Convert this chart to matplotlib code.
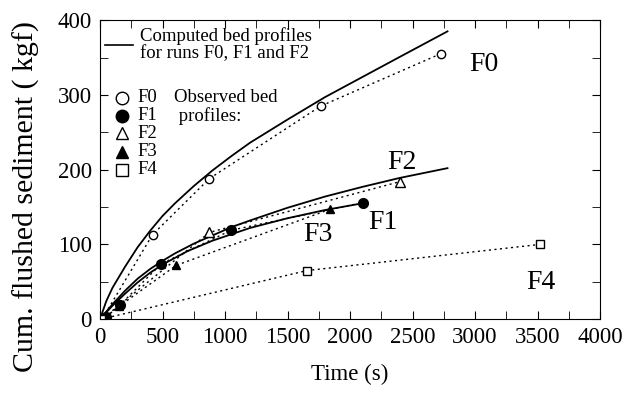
import matplotlib
matplotlib.use('Agg')
import matplotlib.pyplot as plt
from matplotlib.ticker import MultipleLocator

plt.rcParams['font.family'] = ['Liberation Serif', 'DejaVu Serif']

# computed bed profiles (solid)
comp_f0_t = [0, 50, 100, 200, 300, 400, 500, 600, 750, 900, 1050, 1200, 1500, 1800, 2100, 2400, 2780]
comp_f0_w = [0, 24, 42, 70, 96, 118, 138, 155, 178, 199, 218, 236, 267, 297, 324, 351, 385]
comp_f2_t = [0, 50, 100, 200, 300, 400, 500, 600, 750, 900, 1050, 1200, 1500, 1800, 2100, 2400, 2780]
comp_f2_w = [0, 10, 20, 38, 54, 67, 78, 88, 101, 112, 123, 132, 149, 164, 177, 189, 202]
comp_f1_t = [0, 50, 100, 200, 300, 400, 500, 700, 900, 1200, 1500, 1800, 2100]
comp_f1_w = [0, 9, 18, 34, 49, 62, 73, 91, 105, 122, 135, 146, 155]

# observed bed profiles (markers + dotted)
obs_f0_t = [20, 420, 875, 1765, 2725]
obs_f0_w = [1, 113, 188, 285, 355]
obs_f1_t = [50, 160, 490, 1050, 2105]
obs_f1_w = [3, 19, 74, 119, 156]
obs_f2_t = [30, 875, 2400]
obs_f2_w = [2, 116, 184]
obs_f3_t = [40, 150, 610, 1840]
obs_f3_w = [2, 17, 72, 147]
obs_f4_t = [10, 1655, 3520]
obs_f4_w = [0, 65, 100]

fig = plt.figure(figsize=(6.25, 3.95), dpi=100)
ax = fig.add_axes([0.16, 0.192, 0.8, 0.757])

for t, w in [(comp_f0_t, comp_f0_w), (comp_f2_t, comp_f2_w), (comp_f1_t, comp_f1_w)]:
  ax.plot(t, w, color='black', lw=1.3)

dots = dict(color='black', lw=1.0, linestyle=(0, (1.5, 2.5)))
ax.plot(obs_f0_t, obs_f0_w, marker='o', mfc='white', mec='black', ms=6, **dots)
ax.plot(obs_f1_t, obs_f1_w, marker='o', mfc='black', mec='black', ms=7, **dots)
ax.plot(obs_f2_t, obs_f2_w, marker='^', mfc='white', mec='black', ms=7, **dots)
ax.plot(obs_f3_t, obs_f3_w, marker='^', mfc='black', mec='black', ms=6, **dots)
ax.plot(obs_f4_t, obs_f4_w, marker='s', mfc='white', mec='black', ms=6, **dots)

ax.set_xlim(0, 4000)
ax.set_ylim(0, 400)
ax.xaxis.set_major_locator(MultipleLocator(500))
ax.xaxis.set_minor_locator(MultipleLocator(250))
ax.yaxis.set_major_locator(MultipleLocator(100))
ax.yaxis.set_minor_locator(MultipleLocator(50))
ax.tick_params(which='both', direction='in', top=True, right=True, labelsize=16.5, pad=6)
ax.tick_params(which='major', length=6)
ax.tick_params(which='minor', length=6)
ax.set_xlabel('Time (s)', fontsize=16.5, labelpad=11)
ax.set_ylabel('Cum. flushed sediment ( kgf)', fontsize=21.5)
ax.yaxis.set_label_coords(-0.12, 0.41)

# run labels
lab = dict(fontsize=20, ha='left', va='center')
ax.text(2950, 341, 'F0', **lab)
ax.text(2300, 209, 'F2', **lab)
ax.text(2143, 129, 'F1', **lab)
ax.text(1627, 113, 'F3', **lab)
ax.text(3413, 49, 'F4', **lab)

# hand-made legend
ax.plot([40, 260], [367, 367], color='black', lw=1.2)
ax.text(320, 367, 'Computed bed profiles\nfor runs F0, F1 and F2', fontsize=13.5,
        va='center', ha='left', linespacing=1.0)
leg_y = [296, 272, 249, 224, 200]
leg_m = [('o', 'white'), ('o', 'black'), ('^', 'white'), ('^', 'black'), ('s', 'white')]
leg_l = ['F0', 'F1', 'F2', 'F3', 'F4']
for y, (m, fc), l in zip(leg_y, leg_m, leg_l):
  ax.plot([175], [y], marker=m, mfc=fc, mec='black', ms=9, ls='none')
  ax.text(300, y, l, fontsize=13.5, va='center', ha='left')
ax.text(590, 284, 'Observed bed\n profiles:', fontsize=13.5, va='center', ha='left',
        linespacing=1.1)

fig.savefig('out.png', dpi=100)
